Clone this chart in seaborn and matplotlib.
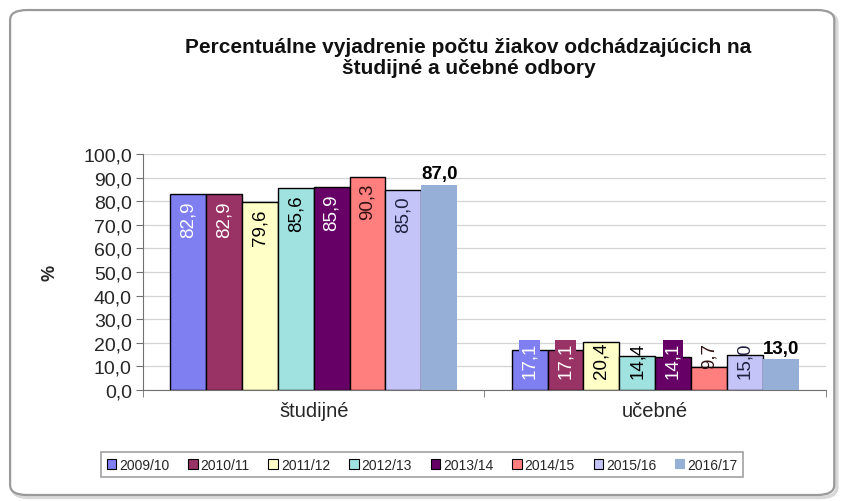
import numpy as np
import pandas as pd
import matplotlib
matplotlib.use("Agg")
import matplotlib.pyplot as plt
import seaborn as sns
from matplotlib.patches import FancyBboxPatch, Patch

# data
categories = ["študijné", "učebné"]
periods = ["2009/10", "2010/11", "2011/12", "2012/13", "2013/14", "2014/15", "2015/16", "2016/17"]
studijne = [82.9, 82.9, 79.6, 85.6, 85.9, 90.3, 85.0, 87.0]
ucebne = [17.1, 17.1, 20.4, 14.4, 14.1, 9.7, 15.0, 13.0]
colors = ["#7F7FF2", "#993366", "#FFFFC8", "#A0E2E0", "#660066", "#FF7F7F", "#C4C4F8", "#95AFD6"]
label_colors = ["white", "white", "black", "black", "white", "#301010", "#202040", "black"]
label_boxed = [True, True, False, False, True, False, False, False]

df = pd.DataFrame({
    "kategoria": np.repeat(categories, len(periods)),
    "obdobie": periods * 2,
    "hodnota": studijne + ucebne,
})

sns.set_style("white")
plt.rcParams["font.family"] = ["Liberation Sans", "DejaVu Sans"]

fig = plt.figure(figsize=(8.41, 5.02), dpi=100)
ax = fig.add_axes([0.170, 0.221, 0.812, 0.470])

# outer rounded frame (with a faint shadow)
shadow = FancyBboxPatch((0.015, 0.007), 0.98, 0.966, boxstyle="round,pad=0,rounding_size=0.02",
                        transform=fig.transFigure, facecolor="none", edgecolor="#d8d8d8",
                        linewidth=2.5, zorder=-2)
frame = FancyBboxPatch((0.012, 0.012), 0.98, 0.966, boxstyle="round,pad=0,rounding_size=0.02",
                       transform=fig.transFigure, facecolor="white", edgecolor="#9a9a9a",
                       linewidth=1.6, zorder=-1)
fig.patches.extend([shadow, frame])
ax.set_facecolor("none")

sns.barplot(data=df, x="kategoria", y="hodnota", hue="obdobie", hue_order=periods,
            palette=colors, saturation=1, width=0.84, gap=0, edgecolor="black",
            linewidth=1, legend=False, ax=ax, zorder=3)

# labels
for i, cont in enumerate(ax.containers):
    for bar in cont:
        v = bar.get_height()
        xc = bar.get_x() + bar.get_width() / 2
        txt = f"{v:.1f}".replace(".", ",")
        if i == len(periods) - 1:
            bar.set_edgecolor("none")
            ax.text(xc, v + 1.2, txt, ha="center", va="bottom", fontsize=13.5,
                    fontweight="bold", color="black", zorder=5)
        else:
            top = max(v - 2.5, 20.5)
            kw = {}
            if label_boxed[i]:
                kw["bbox"] = dict(boxstyle="square,pad=0.1", facecolor=colors[i], edgecolor="none")
            ax.text(xc, top, txt, ha="center", va="top", rotation=90, fontsize=13.5,
                    color=label_colors[i], zorder=5, **kw)

ax.set_ylim(0, 100)
ax.set_xlim(-0.5, 1.5)
ax.set_yticks(np.arange(0, 101, 10))
ax.set_yticklabels([f"{t:.1f}".replace(".", ",") for t in np.arange(0, 101, 10)], fontsize=14)
ax.tick_params(axis="y", length=5, color="#707070", left=True, pad=3)
ax.set_xticks([-0.5, 0.5, 1.5], minor=True)
ax.tick_params(axis="x", which="minor", length=5, color="#707070", bottom=True)
ax.tick_params(axis="x", which="major", length=0, labelsize=14.5, pad=8)
ax.yaxis.grid(True, color="#d4d4d4", linewidth=0.9, zorder=0)
ax.set_axisbelow(True)
for s in ["top", "right"]:
    ax.spines[s].set_visible(False)
ax.spines["left"].set_color("#707070")
ax.spines["bottom"].set_color("#707070")
ax.set_xlabel("")
ax.set_ylabel("%", fontsize=13, fontweight="bold", labelpad=18)

fig.text(0.557, 0.885, "Percentuálne vyjadrenie počtu žiakov odchádzajúcich na\nštudijné a učebné odbory",
         ha="center", va="center", fontsize=15, fontweight="bold", linespacing=1.15,
         color="#111111")

handles = [Patch(facecolor=c, edgecolor="black" if i < 7 else "none", linewidth=0.8)
           for i, c in enumerate(colors)]
leg = fig.legend(handles, periods, loc="center", bbox_to_anchor=(0.502, 0.072), ncol=8,
                 fontsize=10, frameon=True, fancybox=False, edgecolor="#8a8a8a",
                 handlelength=0.7, handleheight=0.7, handletextpad=0.2, columnspacing=1.35,
                 borderpad=0.4)
leg.get_frame().set_linewidth(1.2)

fig.savefig("out.png", dpi=100)
